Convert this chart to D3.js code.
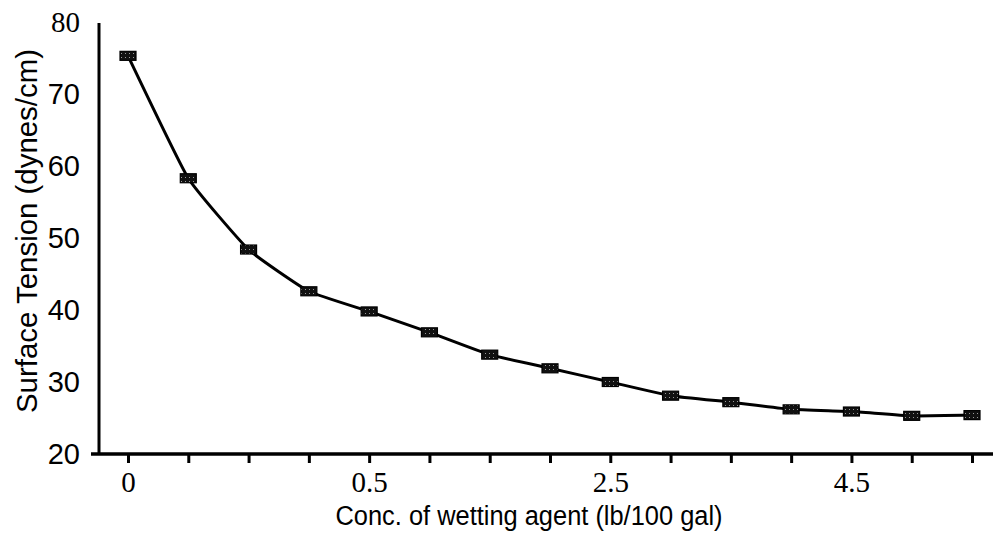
<!DOCTYPE html>
<html>
<head>
<meta charset="utf-8">
<script src="https://d3js.org/d3.v7.min.js"></script>
<style>
  body { margin: 0; background: #fff; }
  svg { display: block; }
</style>
</head>
<body>
<div id="chart"></div>
<script>
// data
var concLabels = ["0", "0.125", "0.25", "0.375", "0.5", "1", "1.5", "2", "2.5", "3", "3.5", "4", "4.5", "5", "5.5"];
var shownLabels = ["0", "0.5", "2.5", "4.5"];
var tension = [75.3, 58.3, 48.4, 42.6, 39.8, 36.9, 33.8, 31.9, 30.0, 28.1, 27.2, 26.2, 25.9, 25.3, 25.4];
var yTicks = [20, 30, 40, 50, 60, 70, 80];

var W = 993, H = 548;

var svg = d3.select("#chart")
  .append("svg")
  .attr("width", W)
  .attr("height", H);

var x = d3.scalePoint()
  .domain(concLabels)
  .range([128, 972]);

var y = d3.scaleLinear()
  .domain([20, 80])
  .range([454, 22]);

// dotted fill for the markers
var defs = svg.append("defs");
var pat = defs.append("pattern")
  .attr("id", "dots")
  .attr("patternUnits", "userSpaceOnUse")
  .attr("width", 4)
  .attr("height", 4);
pat.append("rect").attr("width", 4).attr("height", 4).attr("fill", "#111");
pat.append("rect").attr("x", 1).attr("y", 1).attr("width", 1).attr("height", 1).attr("fill", "#999");

// y axis
var yAxis = svg.append("g")
  .attr("transform", "translate(99,0)")
  .call(d3.axisLeft(y).tickValues(yTicks).tickSize(0).tickPadding(19));
yAxis.select(".domain").remove();
yAxis.selectAll("text")
  .attr("fill", "#000")
  .attr("font-family", function(d){ return d === 80 ? "Liberation Serif, serif" : "Liberation Sans, Arial, sans-serif"; })
  .attr("font-size", 29);
svg.append("line")
  .attr("x1", 99).attr("x2", 99)
  .attr("y1", 23).attr("y2", y(20))
  .attr("stroke", "#000").attr("stroke-width", 3);

// x axis
var xAxis = svg.append("g")
  .attr("transform", "translate(0," + y(20) + ")")
  .call(d3.axisBottom(x)
    .tickSizeInner(9).tickSizeOuter(0).tickPadding(8)
    .tickFormat(function(d){ return shownLabels.indexOf(d) >= 0 ? d : ""; }));
xAxis.select(".domain").remove();
xAxis.selectAll(".tick line")
  .attr("stroke", "#000").attr("stroke-width", 3)
  .attr("y1", 1).attr("y2", 9);
xAxis.selectAll("text")
  .attr("fill", "#000")
  .attr("font-family", "Liberation Serif, serif")
  .attr("font-size", 29);
svg.append("line")
  .attr("x1", 91).attr("x2", W)
  .attr("y1", y(20)).attr("y2", y(20))
  .attr("stroke", "#000").attr("stroke-width", 3.5);

// axis titles
svg.append("text")
  .attr("transform", "translate(37,231) rotate(-90)")
  .attr("text-anchor", "middle")
  .attr("font-family", "Liberation Sans, Arial, sans-serif")
  .attr("font-size", 29)
  .attr("textLength", 364)
  .attr("lengthAdjust", "spacingAndGlyphs")
  .text("Surface Tension (dynes/cm)");

svg.append("text")
  .attr("x", 529)
  .attr("y", 525)
  .attr("text-anchor", "middle")
  .attr("font-family", "Liberation Sans, Arial, sans-serif")
  .attr("font-size", 27)
  .attr("textLength", 387)
  .attr("lengthAdjust", "spacingAndGlyphs")
  .text("Conc. of wetting agent (lb/100 gal)");

// curve
var line = d3.line()
  .x(function(d, i){ return x(concLabels[i]); })
  .y(function(d){ return y(d); })
  .curve(d3.curveCardinal.tension(0.6));

svg.append("path")
  .datum(tension)
  .attr("d", line)
  .attr("fill", "none")
  .attr("stroke", "#000")
  .attr("stroke-width", 3);

// markers
svg.selectAll("rect.pt")
  .data(tension)
  .enter()
  .append("rect")
  .attr("class", "pt")
  .attr("x", function(d, i){ return x(concLabels[i]) - 8; })
  .attr("y", function(d){ return y(d) - 4.5; })
  .attr("width", 16)
  .attr("height", 9)
  .attr("fill", "url(#dots)")
  .attr("stroke", "#000")
  .attr("stroke-width", 1.2);
</script>
</body>
</html>
